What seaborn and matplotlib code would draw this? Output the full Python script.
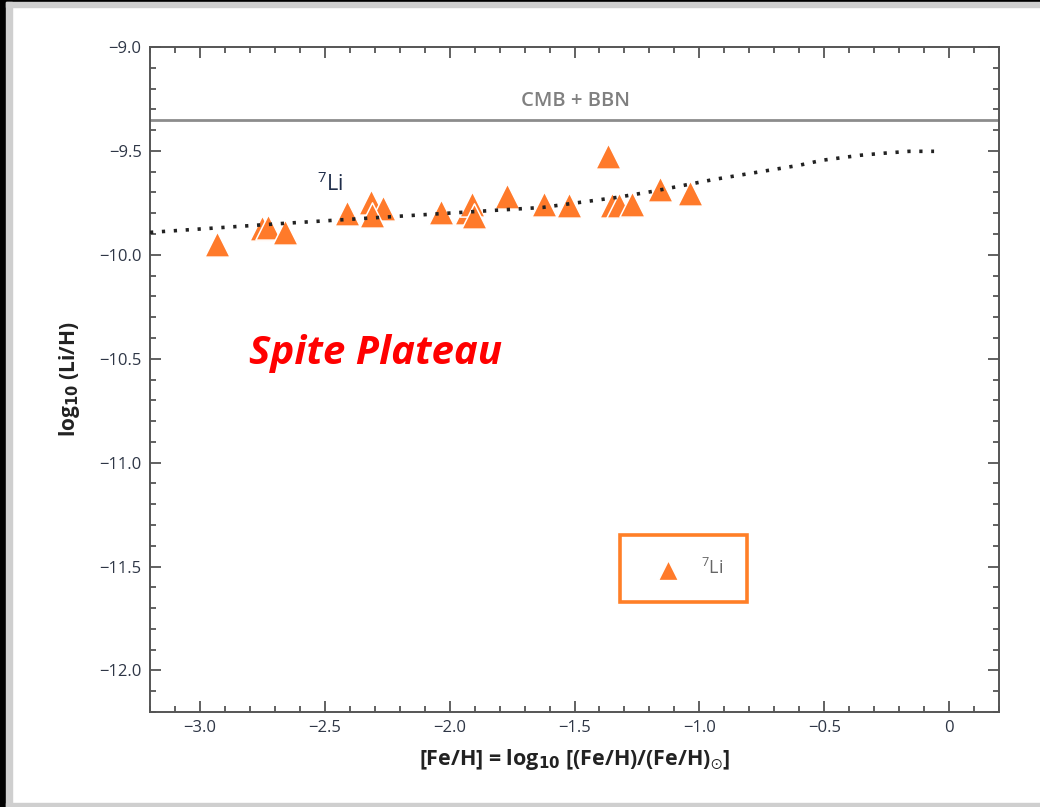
import matplotlib
matplotlib.use("Agg")
import matplotlib.pyplot as plt
import seaborn as sns
import pandas as pd
from matplotlib.patches import Rectangle
from matplotlib.ticker import MultipleLocator

# ---- data ----
feh = [-2.932, -2.752, -2.728, -2.660, -2.412, -2.316, -2.268, -2.312, -2.036,
       -1.932, -1.912, -1.904, -1.772, -1.624, -1.524, -1.364, -1.348, -1.320,
       -1.268, -1.156, -1.036]
li = [-9.950, -9.873, -9.864, -9.892, -9.801, -9.748, -9.777, -9.810, -9.796,
      -9.796, -9.757, -9.815, -9.719, -9.755, -9.760, -9.523, -9.760, -9.760,
      -9.755, -9.685, -9.702]
curve_x = [-3.20, -2.668, -2.412, -2.024, -1.628, -1.332, -1.188, -0.94,
           -0.60, -0.508, -0.356, -0.26, -0.16, -0.06]
curve_y = [-9.892, -9.849, -9.830, -9.801, -9.772, -9.724, -9.695, -9.637,
           -9.569, -9.545, -9.521, -9.511, -9.502, -9.502]
cmb_bbn = -9.352
xticks = [-3.0, -2.5, -2.0, -1.5, -1.0, -0.5, 0.0]
yticks = [-9.0, -9.5, -10.0, -10.5, -11.0, -11.5, -12.0]

def fmt(v):
    return "0" if v == 0 else f"{v:.1f}".replace("-", "\u2212")

sns.set_style("ticks")
plt.rcParams["font.family"] = ["Open Sans", "DejaVu Sans"]
plt.rcParams["mathtext.default"] = "regular"

ORANGE = "#FF7A2A"
TICKC = "#2e3646"

fig = plt.figure(figsize=(10.4, 8.07), dpi=100, facecolor="white")

# slide-like frame decoration
fig.patches.append(Rectangle((0, 0), 6/1040, 1, transform=fig.transFigure,
                             color="black", zorder=0))
fig.patches.append(Rectangle((0, 1 - 2/807), 1, 2/807, transform=fig.transFigure,
                             color="black", zorder=0))
fig.patches.append(Rectangle((6/1040, 0), 6/1040, 1 - 2/807, transform=fig.transFigure,
                             color="#cfcfcf", zorder=0))
fig.patches.append(Rectangle((6/1040, 1 - 7/807), 1, 5/807, transform=fig.transFigure,
                             color="#cfcfcf", zorder=0))
fig.patches.append(Rectangle((6/1040, 0), 1, 4/807, transform=fig.transFigure,
                             color="#cfcfcf", zorder=0))

ax = fig.add_axes([150/1040, 1 - 712/807, 849/1040, 665/807])

df_pts = pd.DataFrame({"feh": feh, "li": li})
df_curve = pd.DataFrame({"x": curve_x, "y": curve_y})

sns.lineplot(data=df_curve, x="x", y="y", ax=ax, color="#222222", lw=2.6,
             linestyle=(0, (0.9, 2.4)), zorder=4)
ax.axhline(cmb_bbn, color="#8c8c8c", lw=2.0, zorder=2)
sns.scatterplot(data=df_pts, x="feh", y="li", ax=ax, marker="^", s=330,
                color=ORANGE, edgecolor="white", linewidth=1.1, zorder=3,
                label="$^{7}$Li")

ax.set_xlim(-3.2, 0.2)
ax.set_ylim(-12.2, -9.0)
ax.set_xticks(xticks, [fmt(v) for v in xticks])
ax.set_yticks(yticks, [fmt(v) for v in yticks])
ax.xaxis.set_minor_locator(MultipleLocator(0.1))
ax.yaxis.set_minor_locator(MultipleLocator(0.1))
ax.tick_params(which="both", direction="in", top=True, right=True,
               color="#555555", width=1.3, labelcolor=TICKC, labelsize=12)
ax.tick_params(which="major", length=8)
ax.tick_params(which="minor", length=4)
ax.tick_params(axis="x", pad=6)
ax.tick_params(axis="y", pad=6)
for sp in ax.spines.values():
    sp.set_visible(True)
    sp.set_color("#555555")
    sp.set_linewidth(1.4)

ax.set_xlabel("[Fe/H] = log$_{\\mathbf{10}}$ [(Fe/H)/(Fe/H)$_{\\odot}$]", fontsize=15.5,
              fontweight="bold", color="#222222", labelpad=8)
ax.set_ylabel("log$_{\\mathbf{10}}$ (Li/H)", fontsize=15, fontweight="bold",
              color="#222222", labelpad=12)

ax.text(-1.496, -9.26, "CMB + BBN", color="#808080", fontsize=14.5,
        fontweight="semibold", ha="center", va="center")
ax.text(-2.48, -9.661, "$^{7}$Li", color="#1f2d4a", fontsize=15.5,
        ha="center", va="center")
ax.text(-2.296, -10.476, "Spite Plateau", color="#ff0000", fontsize=29,
        fontweight="bold", fontstyle="italic", ha="center", va="center")

leg = ax.legend(loc="center", bbox_to_anchor=(0.628, 0.216), frameon=True,
                fancybox=False, fontsize=13, markerscale=0.8,
                borderpad=1.3, handlelength=2.8, handletextpad=0.4,
                labelcolor="#666666")
leg.get_frame().set_edgecolor("#FF7F27")
leg.get_frame().set_linewidth(2.6)
leg.get_frame().set_facecolor("white")
leg.get_frame().set_alpha(1)

fig.savefig("out.png", dpi=100, facecolor="white")
